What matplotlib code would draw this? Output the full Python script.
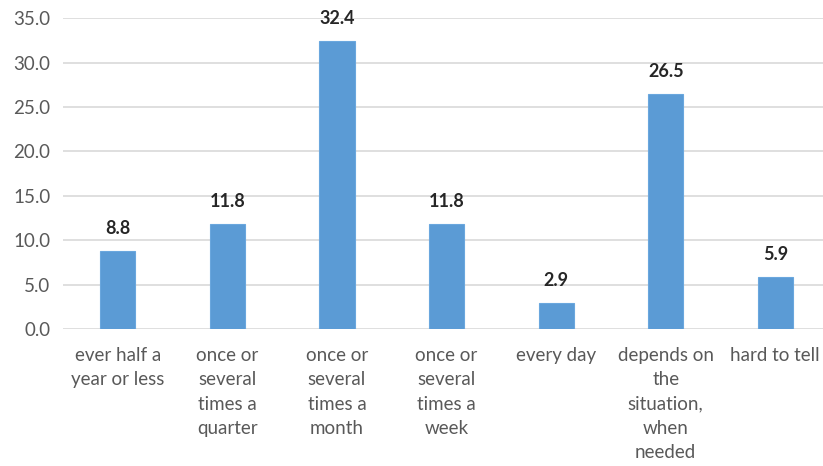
import matplotlib.pyplot as plt
import numpy as np

categories = ["ever half a\nyear or less", "once or\nseveral\ntimes a\nquarter",
              "once or\nseveral\ntimes a\nmonth", "once or\nseveral\ntimes a\nweek",
              "every day", "depends on\nthe\nsituation,\nwhen\nneeded", "hard to tell"]
values = [8.8, 11.8, 32.4, 11.8, 2.9, 26.5, 5.9]
yticks = [0, 5, 10, 15, 20, 25, 30, 35]

plt.rcParams['font.family'] = ['Lato', 'DejaVu Sans']

fig = plt.figure(figsize=(8.23, 4.66), dpi=100)
ax = fig.add_axes([0.0766, 0.294, 0.932, 0.667])

x = np.arange(len(values))
ax.bar(x, values, width=0.32, color='#5B9BD5', edgecolor='#6AA7DE', linewidth=0.8, zorder=3)

for xi, v in zip(x, values):
    ax.annotate(f"{v:.1f}", (xi, v), xytext=(0, 10), textcoords='offset points',
                ha='center', va='bottom', fontsize=13, fontweight='bold', color='#262626')

ax.set_xlim(-0.5, len(values) - 0.5)
ax.set_ylim(0, 35)
ax.set_yticks(yticks)
ax.set_yticklabels([f"{t:.1f}" for t in yticks])
ax.set_xticks(x)
ax.set_xticklabels(categories, linespacing=1.52)
ax.tick_params(axis='both', length=0, labelsize=13.5, labelcolor='#595959')
ax.tick_params(axis='x', pad=13)
ax.tick_params(axis='y', pad=9)
ax.grid(axis='y', color='#D9D9D9', linewidth=1.2, zorder=0)
for s in ax.spines.values():
    s.set_visible(False)

fig.savefig("out.png", dpi=100)
